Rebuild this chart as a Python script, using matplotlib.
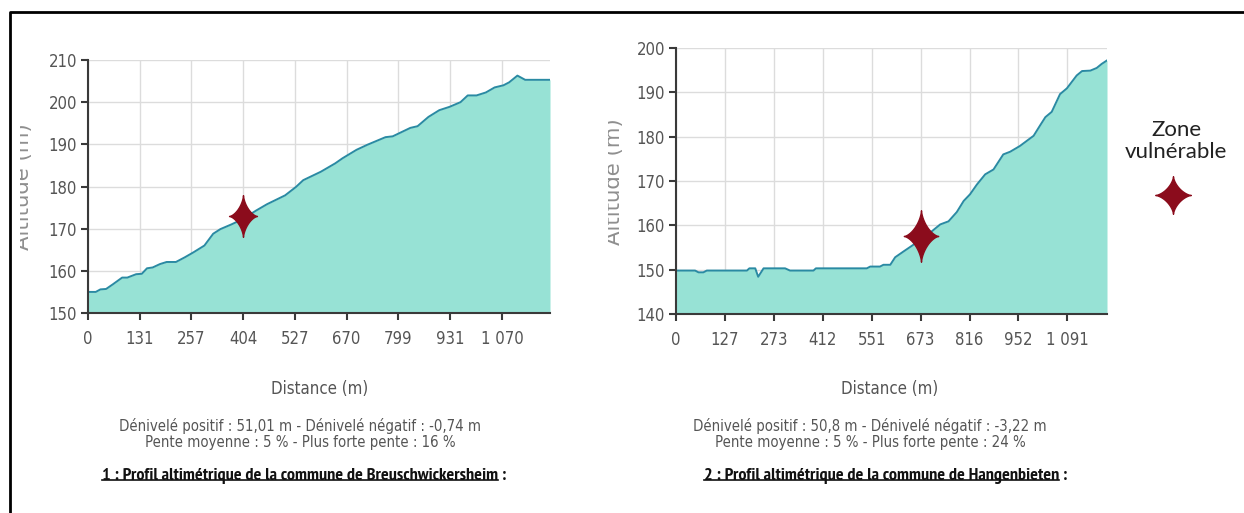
import numpy as np
import matplotlib
matplotlib.use("Agg")
import matplotlib.pyplot as plt
from matplotlib.path import Path
from matplotlib.lines import Line2D
from matplotlib.patches import Rectangle

# profil 1 : Breuschwickersheim (x en pas de graduation, altitude en m)
pos_1 = [0.00, 0.15, 0.24, 0.35, 0.48, 0.66, 0.76, 0.93, 1.04, 1.14, 1.25, 1.39,
         1.52, 1.70, 1.87, 2.04, 2.25, 2.42, 2.56, 2.77, 2.98, 3.25, 3.46, 3.81,
         4.02, 4.16, 4.50, 4.78, 4.92, 5.19, 5.40, 5.75, 5.89, 6.23, 6.37, 6.58,
         6.79, 6.99, 7.20, 7.34, 7.51, 7.69, 7.86, 8.03, 8.14, 8.30, 8.45, 8.93]
alt_1 = [155.0, 155.0, 155.6, 155.7, 156.8, 158.4, 158.4, 159.2, 159.3, 160.6, 160.8, 161.6,
         162.1, 162.1, 163.2, 164.4, 166.0, 168.8, 169.9, 171.0, 172.2, 174.3, 175.8, 177.9,
         179.9, 181.5, 183.5, 185.5, 186.7, 188.7, 189.9, 191.7, 191.9, 193.9, 194.3, 196.5,
         198.1, 198.9, 200.0, 201.6, 201.6, 202.3, 203.5, 204.0, 204.7, 206.3, 205.3, 205.3]
ticks_1 = ["0", "131", "257", "404", "527", "670", "799", "931", "1 070"]
star_1 = (3.0, 173.1)
stats_1 = ["Dénivelé positif : 51,01 m - Dénivelé négatif : -0,74 m",
           "Pente moyenne : 5 % - Plus forte pente : 16 %"]
caption_1 = "1 : Profil altimétrique de la commune de Breuschwickersheim"

# profil 2 : Hangenbieten
pos_2 = [0.00, 0.39, 0.46, 0.56, 0.63, 1.45, 1.50, 1.62, 1.68, 1.79, 2.23, 2.33,
         2.81, 2.86, 3.90, 3.97, 4.17, 4.24, 4.38, 4.48, 4.65, 4.85, 5.00, 5.19,
         5.40, 5.57, 5.74, 5.88, 6.01, 6.15, 6.32, 6.49, 6.69, 6.83, 7.03, 7.31,
         7.44, 7.55, 7.68, 7.85, 7.99, 8.19, 8.30, 8.47, 8.60, 8.70, 8.81]
alt_2 = [149.8, 149.8, 149.4, 149.4, 149.8, 149.8, 150.3, 150.3, 148.4, 150.3, 150.3, 149.8,
         149.8, 150.3, 150.3, 150.7, 150.7, 151.1, 151.1, 152.8, 154.1, 155.6, 157.1, 158.3,
         160.2, 160.9, 163.0, 165.5, 167.0, 169.2, 171.5, 172.6, 176.0, 176.6, 177.9, 180.2,
         182.5, 184.4, 185.6, 189.6, 190.9, 193.8, 194.8, 194.9, 195.5, 196.4, 197.2]
ticks_2 = ["0", "127", "273", "412", "551", "673", "816", "952", "1 091"]
star_2 = (5.0, 157.7)
stats_2 = ["Dénivelé positif : 50,8 m - Dénivelé négatif : -3,22 m",
           "Pente moyenne : 5 % - Plus forte pente : 24 %"]
caption_2 = "2 : Profil altimétrique de la commune de Hangenbieten"

FILL = "#97e2d5"
EDGE = "#2a8aa3"
STAR = "#8b0c1c"
GRAY = "#555555"
COND = dict(fontfamily="DejaVu Sans", fontstretch="condensed")
CAP = dict(fontfamily=["PT Sans Narrow", "Open Sans"], fontweight="bold")

W, H = 1244, 513
fig = plt.figure(figsize=(12.44, 5.13), dpi=100)
renderer = fig.canvas.get_renderer()


def fx(px):
    return px / W


def fy(py):
    return 1 - py / H


def fit_size(text, width, **kw):
    # taille de police donnant la largeur voulue en pixels
    t = fig.text(0, 0, text, fontsize=10, **kw)
    w = t.get_window_extent(renderer).width
    t.remove()
    return 10 * width / w


def star_marker(ratio):
    # étoile à 4 branches, côtés concaves
    t = np.linspace(0, 2 * np.pi, 80)
    c, s = np.cos(t), np.sin(t)
    x = ratio * np.sign(c) * np.abs(c) ** 3
    y = np.sign(s) * np.abs(s) ** 3
    return Path(np.column_stack([x, y]), closed=True)


def draw_profile(rect, pos, alt, ticks, xmax, ylim, star, star_size):
    ax = fig.add_axes(rect)
    ax.fill_between(pos, alt, ylim[0], color=FILL, lw=0, zorder=2)
    ax.plot(pos, alt, color=EDGE, lw=1.4, zorder=3)
    ax.plot(*star, marker=star_marker(0.67), ms=star_size, color=STAR,
            ls="none", zorder=4)
    ax.set_xlim(0, xmax)
    ax.set_ylim(*ylim)
    ax.set_xticks(range(len(ticks)))
    ax.set_xticklabels(ticks)
    ax.set_yticks(np.arange(ylim[0], ylim[1] + 1, 10))
    ax.grid(True, color="#dcdcdc", lw=1, zorder=0)
    ax.set_axisbelow(True)
    for side in ["top", "right"]:
        ax.spines[side].set_visible(False)
    for side in ["left", "bottom"]:
        ax.spines[side].set_color("#3a3a3a")
        ax.spines[side].set_linewidth(1.5)
        ax.spines[side].set_zorder(5)
    ax.tick_params(length=5, width=1.5, color="#3a3a3a", labelcolor=GRAY,
                   labelsize=12, pad=3)
    ax.tick_params(axis="x", pad=7)
    for lab in ax.get_xticklabels() + ax.get_yticklabels():
        lab.set_fontfamily(COND["fontfamily"])
        lab.set_fontstretch(COND["fontstretch"])
    return ax


ax1 = draw_profile([fx(88), fy(313), fx(550 - 88), (313 - 60) / H],
                   pos_1, alt_1, ticks_1, 8.93, (150, 210), star_1, 30)
ax2 = draw_profile([fx(676), fy(314), fx(1107 - 676), (314 - 48) / H],
                   pos_2, alt_2, ticks_2, 8.81, (140, 200), star_2, 37)

# titres d'axe y coupés par le cadre
ylab_size = fit_size("Altitude (m)", 127, fontfamily="DejaVu Sans")
for x, y, xc in [(33, 187, 20), (624, 182, 608)]:
    clip = Rectangle((fx(xc), 0), 0.2, 1, transform=fig.transFigure)
    t = fig.text(fx(x), fy(y), "Altitude (m)", rotation=90, ha="right", va="center",
                 fontsize=ylab_size, color="#8f8f8f", fontfamily="DejaVu Sans")
    t.set_clip_path(clip)

# textes sous les graphiques
dist_size = fit_size("Distance (m)", 97, **COND)
for cx in [320, 890]:
    fig.text(fx(cx), fy(389), "Distance (m)", ha="center", va="center",
             fontsize=dist_size, color=GRAY, **COND)
stat_size = fit_size(stats_1[0], 362, **COND)
for cx, lines in [(300, stats_1), (870, stats_2)]:
    for i, line in enumerate(lines):
        fig.text(fx(cx), fy(426 + 16 * i), line, ha="center", va="center",
                 fontsize=stat_size, color=GRAY, **COND)

cap_size = fit_size(caption_1 + " :", 405, **CAP)
for x0, cap in [(102, caption_1), (704, caption_2)]:
    t = fig.text(fx(x0), fy(476), cap, ha="left", va="center", fontsize=cap_size,
                 color="#111111", **CAP)
    bb = t.get_window_extent(renderer)
    y_line = (bb.y0 + 0.22 * bb.height) / H
    fig.add_artist(Line2D([bb.x0 / W, bb.x1 / W], [y_line] * 2, color="#111111",
                          lw=1.2, transform=fig.transFigure))
    fig.text(bb.x1 / W, fy(476), " :", ha="left", va="center", fontsize=cap_size,
             color="#111111", **CAP)

# légende
fig.text(fx(1176), fy(141), "Zone\nvulnérable", ha="center", va="center",
         fontsize=16, color="#222222", fontfamily="Lato", linespacing=1.1)
fig.add_artist(Line2D([fx(1173)], [fy(195)], marker=star_marker(0.95), ms=27,
                      color=STAR, ls="none", transform=fig.transFigure))

# cadre
fig.add_artist(Line2D([fx(10), fx(10), 1], [0, fy(12), fy(12)], color="black",
                      lw=2, transform=fig.transFigure))

fig.savefig("out.png", dpi=100)
